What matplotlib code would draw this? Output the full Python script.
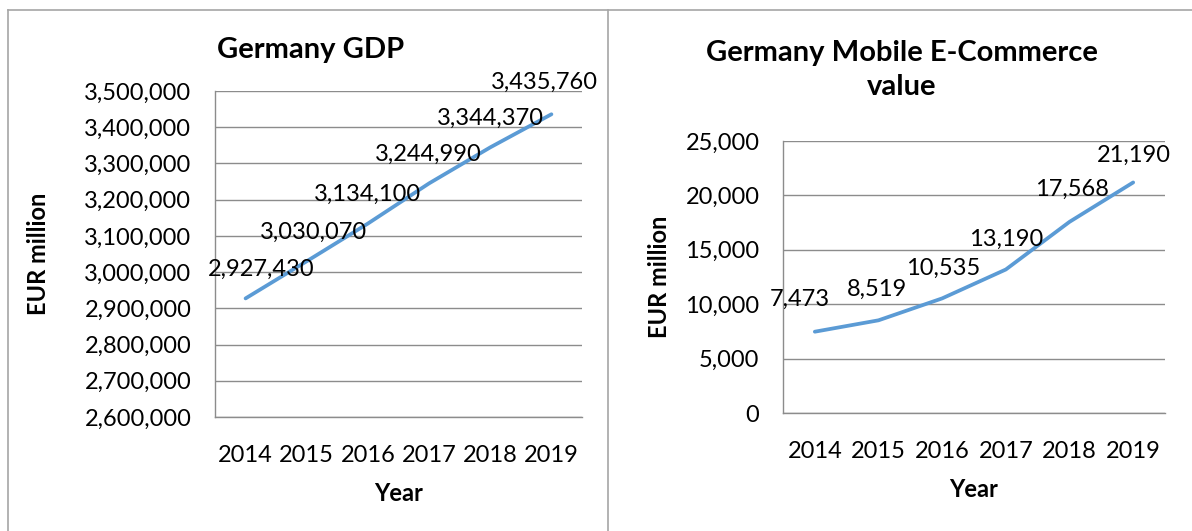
import matplotlib
matplotlib.use("Agg")
import matplotlib.pyplot as plt
from matplotlib.lines import Line2D

years = ["2014", "2015", "2016", "2017", "2018", "2019"]
gdp = [2927430, 3030070, 3134100, 3244990, 3344370, 3435760]
mcom = [7473, 8519, 10535, 13190, 17568, 21190]
gdp_ticks = [2600000, 2700000, 2800000, 2900000, 3000000, 3100000, 3200000, 3300000, 3400000, 3500000]
mcom_ticks = [0, 5000, 10000, 15000, 20000, 25000]

W, H = 1192, 531
plt.rcParams['font.family'] = ['Lato', 'DejaVu Sans']
fig = plt.figure(figsize=(W / 100, H / 100), dpi=100)

LINE = "#5B9BD5"
GRID = "#8C8C8C"
FS = 17


def px_axes(x0, y0, x1, y1):
    return fig.add_axes([x0 / W, 1 - y1 / H, (x1 - x0) / W, (y1 - y0) / H])


def style(ax, ticks, ylim):
    x = list(range(len(years)))
    ax.set_xlim(-0.5, len(years) - 0.5)
    ax.set_ylim(*ylim)
    ax.set_yticks(ticks)
    ax.set_yticklabels([f"{t:,}" for t in ticks], fontsize=FS)
    ax.set_xticks(x)
    ax.set_xticklabels(years, fontsize=FS)
    ax.tick_params(length=0)
    ax.tick_params(axis='y', pad=17)
    ax.tick_params(axis='x', pad=20)
    for s in ["top", "right"]:
        ax.spines[s].set_visible(False)
    for s in ["left", "bottom"]:
        ax.spines[s].set_color(GRID)
        ax.spines[s].set_linewidth(1.0)
    ax.yaxis.grid(True, color=GRID, linewidth=1.0)
    ax.set_axisbelow(True)
    ax.set_xlabel("Year", fontsize=FS, fontweight='bold', labelpad=12)
    ax.set_ylabel("EUR million", fontsize=FS, fontweight='bold')


# Left chart
ax1 = px_axes(215, 91, 582, 417)
style(ax1, gdp_ticks, (2600000, 3500000))
ax1.plot(range(len(years)), gdp, color=LINE, linewidth=2.7, solid_capstyle='round')
off1 = [(16, 29), (7, 29), (0, 29), (-1, 29), (0, 29), (-7, 32)]
for i, v in enumerate(gdp):
    ax1.annotate(f"{v:,}", (i, v), xytext=off1[i], textcoords='offset pixels',
                 ha='center', va='center', fontsize=FS, clip_on=False)
ax1.yaxis.set_label_coords((50 - 215) / 367, 0.5, transform=ax1.transAxes)
fig.text(311 / W, 1 - 50 / H, "Germany GDP", ha='center', va='center',
         fontsize=21, fontweight='bold')

# Right chart
ax2 = px_axes(783, 141, 1165, 413)
style(ax2, mcom_ticks, (0, 25000))
ax2.plot(range(len(years)), mcom, color=LINE, linewidth=2.7, solid_capstyle='round')
off2 = [(-15, 32), (-2, 31), (1, 30), (0, 30), (2, 33), (1, 27)]
for i, v in enumerate(mcom):
    ax2.annotate(f"{v:,}", (i, v), xytext=off2[i], textcoords='offset pixels',
                 ha='center', va='center', fontsize=FS, clip_on=False)
ax2.yaxis.set_label_coords((671 - 783) / 382, 0.5, transform=ax2.transAxes)
fig.text(902 / W, 1 - 70 / H, "Germany Mobile E-Commerce\nvalue", ha='center', va='center',
         fontsize=21, fontweight='bold', linespacing=1.35)

# Frame lines
BORDER = "#A6A6A6"
fig.add_artist(Line2D([8 / W, 1], [1 - 10 / H, 1 - 10 / H], color=BORDER, linewidth=1.2))
fig.add_artist(Line2D([8 / W, 8 / W], [0, 1 - 10 / H], color=BORDER, linewidth=1.2))
fig.add_artist(Line2D([608 / W, 608 / W], [0, 1 - 10 / H], color=BORDER, linewidth=1.2))

fig.savefig("out.png", dpi=100)
